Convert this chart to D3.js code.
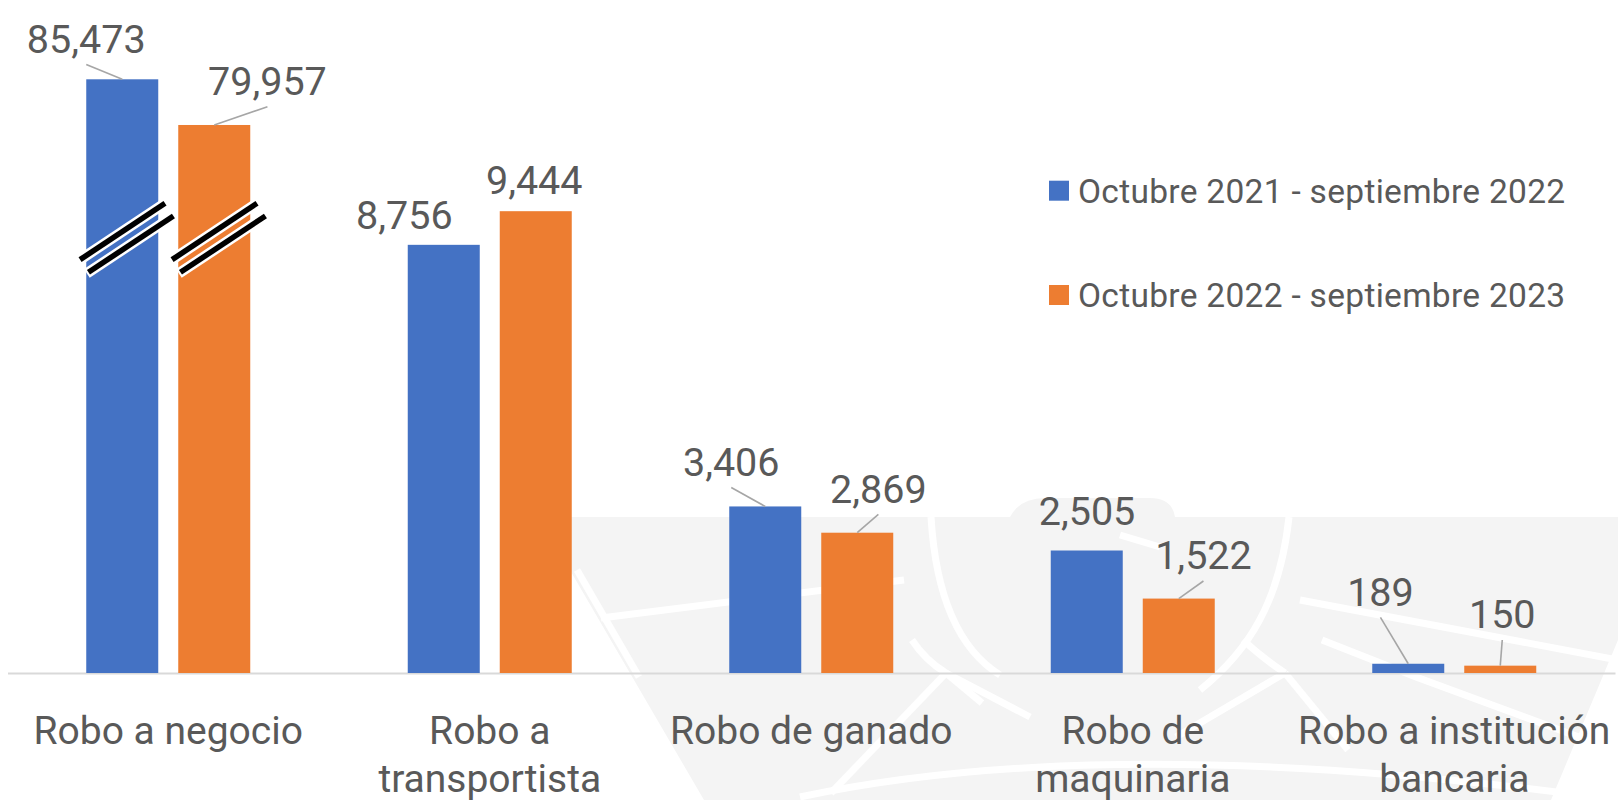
<!DOCTYPE html>
<html><head><meta charset="utf-8">
<script src="https://cdn.jsdelivr.net/npm/d3@7"></script>
<style>html,body{margin:0;padding:0;background:#fff;overflow:hidden}</style>
</head><body><svg id="chart" width="1618" height="800"></svg>
<script>
// ---------------- DATA ----------------
const categories = ["Robo a negocio", "Robo a transportista", "Robo de ganado", "Robo de maquinaria", "Robo a institución bancaria"];
const categoryLines = [["Robo a negocio"], ["Robo a", "transportista"], ["Robo de ganado"], ["Robo de", "maquinaria"], ["Robo a institución", "bancaria"]];
const seriesNames = ["Octubre 2021 - septiembre 2022", "Octubre 2022 - septiembre 2023"];
const values2022 = [85473, 8756, 3406, 2505, 189];
const values2023 = [79957, 9444, 2869, 1522, 150];
const brokenCategories = ["Robo a negocio"];

// ---------------- LAYOUT / STYLE ----------------
const W = 1618, H = 800, baseY = 673;
const colors = ["#4472c4", "#ed7d31"];
const textColor = "#595959";
const font = "Roboto, 'Noto Sans', sans-serif";
// label nudges [dx from bar centre, dy from bar top, leader line?]
const labelNudge = [
  [[-36, -26.6, true], [-39.4, -15.8, false], [-34, -30.7, true], [0.3, -25.5, false], [-27.8, -58.1, true]],
  [[53.2, -30, true], [-1.5, -17.2, false], [21.1, -30, true], [24.7, -29.3, true], [2, -37.4, true]]
];
const breakValue = 8900;

const svg = d3.select("#chart");

// ---- faint background watermark ----
const wm = svg.append("g");
wm.append("path").attr("fill", "#f4f4f4")
  .attr("d", "M539,517 L1010,517 Q1020,498 1045,498 L1150,498 Q1172,498 1175,517 L1618,517 L1618,640 L1551,800 L704,800 Z");
const wmLines = [
  "M931,517 C936,600 960,650 1000,675",
  "M1289,517 C1280,600 1250,650 1200,690",
  "M601,618 L904,580",
  "M1300,600 L1618,660",
  "M577,570 L639,677",
  "M912,640 Q925,660 946,673 L982,703",
  "M946,673 L831,793",
  "M946,673 L1030,717",
  "M1285,673 L1176,737",
  "M1285,673 L1348,750",
  "M1243,640 Q1265,660 1285,673",
  "M800,797 Q1113,730 1618,800",
  "M1322,640 L1416,677 L1614,750",
  "M1120,535 L1160,547"
];
wm.selectAll("path.l").data(wmLines).join("path").attr("class", "l")
  .attr("d", d => d).attr("fill", "none").attr("stroke", "#fff").attr("stroke-width", 7);

// ---------------- SCALES ----------------
const x0 = d3.scaleBand().domain(categories).range([7.5, 1615]).paddingInner(0).paddingOuter(0);
const bw = x0.bandwidth();
const x1 = d3.scaleBand().domain(seriesNames).range([bw / 2 - 82, bw / 2 + 82]).paddingInner(0.2174).paddingOuter(0);
const y = d3.scaleLinear().domain([0, 10000]).range([baseY, 184]);
const yTop = d3.scaleLinear().domain([60000, 90000]).range([290.3, 41.8]);
const yOf = (cat, v) => brokenCategories.includes(cat) ? yTop(v) : y(v);

const seriesValues = [values2022, values2023];
const bars = [];
categories.forEach((c, i) => {
  seriesNames.forEach((s, k) => {
    const v = seriesValues[k][i];
    const xl = x0(c) + x1(s);
    bars.push({cat: c, series: s, k, i, v, x: xl, cx: xl + x1.bandwidth() / 2, y: yOf(c, v)});
  });
});

// ---------------- AXIS ----------------
const axisG = svg.append("g").attr("transform", `translate(0,${baseY})`)
  .call(d3.axisBottom(x0).tickSize(0).tickSizeOuter(0));
axisG.select(".domain").attr("stroke", "#d9d9d9").attr("stroke-width", 2);
axisG.selectAll(".tick text").each(function(d) {
  const t = d3.select(this);
  const lines = categoryLines[categories.indexOf(d)];
  t.text(null).attr("y", 0).attr("dy", null)
    .attr("fill", textColor).attr("font-family", font).attr("font-size", 39);
  lines.forEach((ln, j) => t.append("tspan").attr("x", 0).attr("y", 71 + j * 47.5).text(ln));
});

// ---------------- BARS ----------------
svg.append("g").selectAll("rect").data(bars).join("rect")
  .attr("x", d => d.x).attr("width", x1.bandwidth())
  .attr("y", d => d.y).attr("height", d => baseY - d.y)
  .attr("fill", d => colors[d.k]);

// ---------------- BREAK MARKS ----------------
const dir = [0.833, -0.553], perp = [0.553, 0.833];
const brk = svg.append("g");
bars.filter(d => brokenCategories.includes(d.cat)).forEach(d => {
  const cx = d.cx + 4.5, cy = y(breakValue);
  [-1, 1].forEach(s => {
    const mx = cx + s * 7.6 * perp[0], my = cy + s * 7.6 * perp[1];
    [[53, "#fff", 10.5], [51, "#000", 5.5]].forEach(([hl, col, sw]) => {
      brk.append("line")
        .attr("x1", mx - hl * dir[0]).attr("y1", my - hl * dir[1])
        .attr("x2", mx + hl * dir[0]).attr("y2", my + hl * dir[1])
        .attr("stroke", col).attr("stroke-width", sw);
    });
  });
});

// ---------------- LABELS ----------------
const fmt = d3.format(",");
const lab = svg.append("g");
bars.forEach(d => {
  const [dx, dy, leader] = labelNudge[d.k][d.i];
  const tx = d.cx + dx, ty = d.y + dy;
  if (leader) {
    lab.append("line").attr("x1", tx).attr("y1", ty + 11.7).attr("x2", d.cx).attr("y2", d.y)
      .attr("stroke", "#a6a6a6").attr("stroke-width", 1.6);
  }
  lab.append("text").attr("x", tx).attr("y", ty).attr("text-anchor", "middle")
    .attr("fill", textColor).attr("font-family", font).attr("font-size", 39.5).text(fmt(d.v));
});

// ---------------- LEGEND ----------------
const leg = svg.append("g");
seriesNames.forEach((s, k) => {
  const top = 180.7 + k * 104.3;
  leg.append("rect").attr("x", 1049).attr("y", top).attr("width", 20).attr("height", 20).attr("fill", colors[k]);
  leg.append("text").attr("x", 1078).attr("y", top + 22).attr("fill", textColor)
    .attr("font-family", font).attr("font-size", 33.5).attr("letter-spacing", 0.3).text(s);
});
</script>
</body></html>
